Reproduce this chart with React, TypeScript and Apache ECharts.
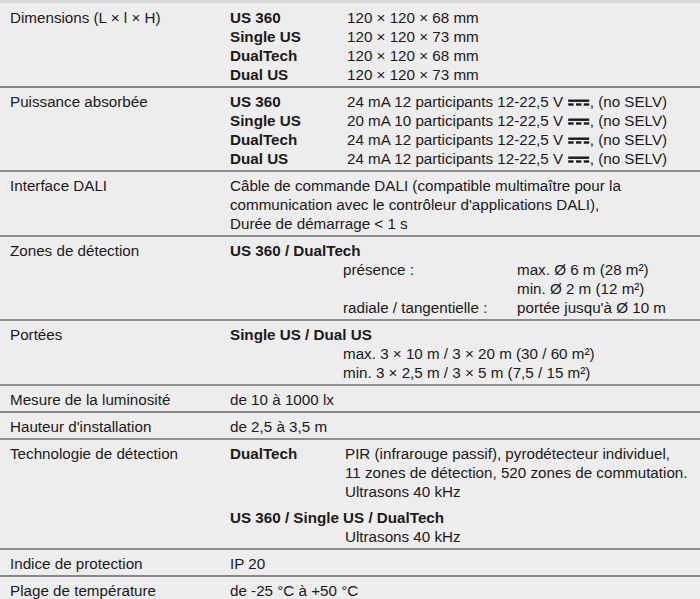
import React, { useEffect, useRef } from "react";
import * as echarts from "echarts";

const rowLabels = [
  "Dimensions (L × l × H)",
  "Puissance absorbée",
  "Interface DALI",
  "Zones de détection",
  "Portées",
  "Mesure de la luminosité",
  "Hauteur d'installation",
  "Technologie de détection",
  "Indice de protection",
  "Plage de température",
];
const models = ["US 360", "Single US", "DualTech", "Dual US"];
const dimensionValues = [
  "120 × 120 × 68 mm",
  "120 × 120 × 73 mm",
  "120 × 120 × 68 mm",
  "120 × 120 × 73 mm",
];
const powerValues = [
  "24 mA 12 participants 12-22,5 V",
  "20 mA 10 participants 12-22,5 V",
  "24 mA 12 participants 12-22,5 V",
  "24 mA 12 participants 12-22,5 V",
];
const powerSuffix = ", (no SELV)";
const daliLines = [
  "Câble de commande DALI (compatible multimaître pour la",
  "communication avec le contrôleur d'applications DALI),",
  "Durée de démarrage < 1 s",
];
const zonesTitle = "US 360 / DualTech";
const zonesLabels = ["présence :", "", "radiale / tangentielle :"];
const zonesValues = ["max. Ø 6 m (28 m²)", "min. Ø 2 m (12 m²)", "portée jusqu'à Ø 10 m"];
const rangesTitle = "Single US / Dual US";
const rangesLines = [
  "max. 3 × 10 m / 3 × 20 m (30 / 60 m²)",
  "min. 3 × 2,5 m / 3 × 5 m (7,5 / 15 m²)",
];
const brightnessValue = "de 10 à 1000 lx";
const heightValue = "de 2,5 à 3,5 m";
const techTitle1 = "DualTech";
const techLines1 = [
  "PIR (infrarouge passif), pyrodétecteur individuel,",
  "11 zones de détection, 520 zones de commutation.",
  "Ultrasons 40 kHz",
];
const techTitle2 = "US 360 / Single US / DualTech";
const techLines2 = ["Ultrasons 40 kHz"];
const protectionValue = "IP 20";
const temperatureValue = "de -25 °C à +50 °C";

const rowLineCounts = [4, 4, 3, 4, 3, 1, 1, 5, 1, 1];
const darkSeparators = [0, 5, 8];

const FONT = '"Liberation Sans", Arial, Helvetica, sans-serif';
const FS = 15.2;
const COLOR = "#1a1a1a";
const LH = 19;
const FIRST = 19.5;
const BOTTOM = 7.5;
const TECH_GAP = 7;
const X_LABEL = 10;
const X_COL2 = 230;
const X_COL3 = 347;
const X_SUB = 343;
const X_ZONEVAL = 517;

function measure(text: string, bold = false): number {
  const c = document.createElement("canvas").getContext("2d");
  if (!c) return text.length * 7.5;
  c.font = `${bold ? "bold " : ""}${FS}px ${FONT}`;
  return c.measureText(text).width;
}

export default function App() {
  const ref = useRef<HTMLDivElement>(null);
  useEffect(() => {
    document.body.style.margin = "0";
    if (!ref.current) return;
    const chart = echarts.init(ref.current, undefined, { renderer: "svg" });
    const els: any[] = [];
    const txt = (x: number, base: number, text: string, bold = false) => {
      els.push({
        type: "text",
        x,
        y: base - 5.4,
        style: {
          text,
          fill: COLOR,
          font: `${bold ? "bold " : ""}${FS}px ${FONT}`,
          verticalAlign: "middle",
          align: "left",
        },
      });
    };

    els.push({ type: "rect", shape: { x: 0, y: 0, width: 700, height: 3 }, style: { fill: "#d8d8d8" } });

    let top = 3;
    const tops: number[] = [];
    rowLineCounts.forEach((n, i) => {
      tops.push(top);
      const h = FIRST + (n - 1) * LH + BOTTOM + (i === 7 ? TECH_GAP : 0);
      top += h;
      if (i < rowLineCounts.length - 1) {
        const dark = darkSeparators.includes(i);
        els.push({
          type: "line",
          shape: { x1: 0, y1: top, x2: 700, y2: top },
          style: { stroke: dark ? "#1e1e1e" : "#6e6e6e", lineWidth: dark ? 1.1 : 1.6 },
        });
      }
    });

    const b = (row: number, line: number, extra = 0) => tops[row] + FIRST + line * LH + extra;

    rowLabels.forEach((l, i) => txt(X_LABEL, b(i, 0), l));

    models.forEach((m, i) => {
      txt(X_COL2, b(0, i), m, true);
      txt(X_COL3, b(0, i), dimensionValues[i]);
    });
    models.forEach((m, i) => {
      const base = b(1, i);
      txt(X_COL2, base, m, true);
      const pre = powerValues[i] + " ";
      txt(X_COL3, base, pre);
      const sx = X_COL3 + measure(pre);
      const sw = 21;
      els.push({ type: "rect", shape: { x: sx, y: base - 7, width: sw, height: 2.4 }, style: { fill: COLOR } });
      const dw = (sw - 2 * 2.4) / 3;
      for (let k = 0; k < 3; k++) {
        els.push({
          type: "rect",
          shape: { x: sx + k * (dw + 2.4), y: base - 3.2, width: dw, height: 2.4 },
          style: { fill: COLOR },
        });
      }
      txt(sx + sw + 0.5, base, powerSuffix);
    });
    daliLines.forEach((l, i) => txt(X_COL2, b(2, i), l));
    txt(X_COL2, b(3, 0), zonesTitle, true);
    zonesValues.forEach((v, i) => {
      if (zonesLabels[i]) txt(X_SUB, b(3, i + 1), zonesLabels[i]);
      txt(X_ZONEVAL, b(3, i + 1), v);
    });
    txt(X_COL2, b(4, 0), rangesTitle, true);
    rangesLines.forEach((l, i) => txt(X_SUB, b(4, i + 1), l));
    txt(X_COL2, b(5, 0), brightnessValue);
    txt(X_COL2, b(6, 0), heightValue);
    txt(X_COL2, b(7, 0), techTitle1, true);
    techLines1.forEach((l, i) => txt(X_SUB + 2, b(7, i), l));
    txt(X_COL2, b(7, 3, TECH_GAP), techTitle2, true);
    techLines2.forEach((l, i) => txt(X_SUB + 2, b(7, 4 + i, TECH_GAP), l));
    txt(X_COL2, b(8, 0), protectionValue);
    txt(X_COL2, b(9, 0), temperatureValue);

    chart.setOption({
      animation: false,
      backgroundColor: "#ededed",
      graphic: { elements: els },
    });
    return () => chart.dispose();
  }, []);
  return <div ref={ref} style={{ width: 700, height: 599 }} />;
}
